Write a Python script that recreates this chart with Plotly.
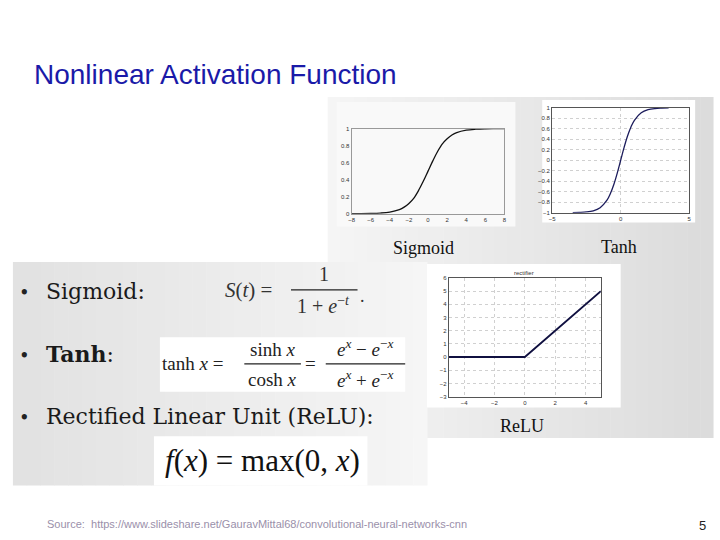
import plotly.graph_objects as go

W, H = 720, 540

# ---------------- data ----------------
sig_x = [-8, -7, -6, -5, -4, -3, -2.5, -2, -1.5, -1, -0.5, 0, 0.5, 1, 1.5, 2, 2.5, 3, 4, 5, 6, 7, 8]
sig_y = [0.0003, 0.0009, 0.0025, 0.0067, 0.018, 0.047, 0.076, 0.12, 0.18, 0.27, 0.38, 0.5,
         0.62, 0.73, 0.82, 0.88, 0.924, 0.953, 0.982, 0.993, 0.9975, 0.9991, 0.9997]

tanh_x = [-3.5, -3, -2.5, -2, -1.5, -1, -0.75, -0.5, -0.25, 0, 0.25, 0.5, 0.75, 1, 1.5, 2, 2.5, 3, 3.5]
tanh_y = [-0.998, -0.995, -0.987, -0.964, -0.905, -0.762, -0.635, -0.462, -0.245, 0,
          0.245, 0.462, 0.635, 0.762, 0.905, 0.964, 0.987, 0.995, 0.998]

relu_x = [-5, 0, 5]
relu_y = [0, 0, 5]

sig_xticks = [-8, -6, -4, -2, 0, 2, 4, 6, 8]
sig_yticks = [0, 0.2, 0.4, 0.6, 0.8, 1]
tanh_xticks = [-5, 0, 5]
tanh_yticks = [-1, -0.8, -0.6, -0.4, -0.2, 0, 0.2, 0.4, 0.6, 0.8, 1]
relu_xticks = [-4, -2, 0, 2, 4]
relu_yticks = [-3, -2, -1, 0, 1, 2, 3, 4, 5, 6]

title_text = "Nonlinear Activation Function"
source_text = "Source:&nbsp;&nbsp;https://www.slideshare.net/GauravMittal68/convolutional-neural-networks-cnn"
page_no = "5"


def px(x):
    return x / W


def py(y):
    return 1 - y / H


fig = go.Figure()

fig.add_trace(go.Scatter(x=sig_x, y=sig_y, mode="lines", line=dict(color="#111111", width=1.3, shape="spline"),
                         xaxis="x", yaxis="y", showlegend=False, hoverinfo="skip"))
fig.add_trace(go.Scatter(x=tanh_x, y=tanh_y, mode="lines", line=dict(color="#1c1c5c", width=1.3, shape="spline"),
                         xaxis="x2", yaxis="y2", showlegend=False, hoverinfo="skip"))
fig.add_trace(go.Scatter(x=relu_x, y=relu_y, mode="lines", line=dict(color="#101040", width=1.8),
                         xaxis="x3", yaxis="y3", showlegend=False, hoverinfo="skip"))

tickfont = dict(family="Liberation Sans", size=6, color="#333333")


def ax(dom, rng, ticks, grid, anchor, axcol="#999999"):
    return dict(domain=dom, range=rng, tickvals=ticks, tickfont=tickfont, showline=True, mirror=True,
                linecolor=axcol, linewidth=1, showgrid=grid, gridcolor="#d0d0d0", griddash="dot",
                gridwidth=0.7, zeroline=False, ticks="", ticklen=0, anchor=anchor, fixedrange=True)


shapes = []

# right grey panel (gradient approximated with strips)
x0, x1, y0, y1 = 327, 715, 95, 440
n = 30
for i in range(n):
    t = i / (n - 1)
    c = int(245 - t * 25)
    shapes.append(dict(type="rect", xref="paper", yref="paper", x0=px(x0 + (x1 - x0) * i / n),
                       x1=px(x0 + (x1 - x0) * (i + 1) / n + 0.5), y0=py(y1), y1=py(y0),
                       fillcolor=f"rgb({c},{c},{c})", line=dict(width=0), layer="below"))
# left grey panel
x0, x1, y0, y1 = 10, 427, 262, 488
for i in range(n):
    t = i / (n - 1)
    c = int(226 + t * 20)
    shapes.append(dict(type="rect", xref="paper", yref="paper", x0=px(x0 + (x1 - x0) * i / n),
                       x1=px(x0 + (x1 - x0) * (i + 1) / n + 0.5), y0=py(y1), y1=py(y0),
                       fillcolor=f"rgb({c},{c},{c})", line=dict(width=0), layer="below"))


def box(a, b, c, d, col="white"):
    shapes.append(dict(type="rect", xref="paper", yref="paper", x0=px(a), x1=px(b), y0=py(d), y1=py(c),
                       fillcolor=col, line=dict(width=0), layer="below"))


box(336, 516, 100, 226, "#f9f9f9")   # sigmoid image
box(543, 697, 98, 222)               # tanh image
box(427, 622, 264, 409)              # relu image
box(158, 405, 338, 393)              # tanh formula
box(152, 367, 438, 488)              # relu formula


def hline(a, b, y, w=1.2):
    shapes.append(dict(type="line", xref="paper", yref="paper", x0=px(a), x1=px(b), y0=py(y), y1=py(y),
                       line=dict(color="#222222", width=w)))


hline(290, 357, 290)
hline(243, 300, 365)
hline(325, 405, 365)

ann = []


def text(x, y, s, size, family="Liberation Serif", color="#222222", xanchor="left", **kw):
    ann.append(dict(x=px(x), y=py(y), xref="paper", yref="paper", text=s, showarrow=False,
                    xanchor=xanchor, yanchor="middle", borderpad=0,
                    font=dict(family=family, size=size, color=color), **kw))


text(30, 72, title_text, 28, family="Liberation Sans", color="#1a1aa8")
text(43, 527, source_text, 11, family="Liberation Sans", color="#9a90aa")
text(709, 528, page_no, 13, family="Liberation Sans", color="#222222", xanchor="right")

# image captions
text(423, 248, "Sigmoid", 18, xanchor="center", color="#111111")
text(620, 247, "Tanh", 18, xanchor="center", color="#111111")
text(523, 428, "ReLU", 18, xanchor="center", color="#111111")
text(525, 273, "rectifier", 6, family="Liberation Sans", xanchor="center", color="#333333")

# bullets
bul = "DejaVu Serif"
text(15, 293, "•", 18, family=bul, color="#222222")
text(42, 292, "Sigmoid:", 22, family=bul, color="#1a1a1a")
text(15, 356, "•", 18, family=bul, color="#222222")
text(42, 355, "<b>Tanh</b>:", 22, family=bul, color="#1a1a1a")
text(15, 419, "•", 18, family=bul, color="#222222")
text(42, 418, "Rectified Linear Unit (ReLU):", 22, family=bul, color="#1a1a1a")

# formulas
ff = "Liberation Serif"
text(223, 290, "<i>S</i>(<i>t</i>) =", 21, family=ff, color="#333333")
text(323, 274, "1", 20, family=ff, xanchor="center", color="#333333")
text(323, 305, "1 + <i>e</i><sup>−<i>t</i></sup>", 20, family=ff, xanchor="center", color="#333333")
text(358, 296, ".", 18, family=ff, color="#333333")

text(159, 365, "tanh <i>x</i> =", 19, family=ff, color="#222222")
text(271, 350, "sinh <i>x</i>", 19, family=ff, xanchor="center", color="#222222")
text(271, 381, "cosh <i>x</i>", 19, family=ff, xanchor="center", color="#222222")
text(303, 365, "=", 19, family=ff, color="#222222")
text(365, 349, "<i>e</i><sup><i>x</i></sup> − <i>e</i><sup>−<i>x</i></sup>", 19, family=ff, xanchor="center", color="#222222")
text(365, 380, "<i>e</i><sup><i>x</i></sup> + <i>e</i><sup>−<i>x</i></sup>", 19, family=ff, xanchor="center", color="#222222")

text(162, 463, "<i>f</i>(<i>x</i>) = max(0, <i>x</i>)", 31, family=ff, color="#111111")

fig.update_layout(
    width=W, height=H, margin=dict(l=0, r=0, t=0, b=0),
    paper_bgcolor="white", plot_bgcolor="rgba(0,0,0,0)",
    xaxis=ax([px(351), px(505)], [-8, 8], sig_xticks, False, "y"),
    yaxis=ax([py(213), py(127)], [0, 1], sig_yticks, False, "x"),
    xaxis2=ax([px(553), px(691)], [-5, 5], tanh_xticks, True, "y2", "#555555"),
    yaxis2=ax([py(212), py(106)], [-1, 1], tanh_yticks, True, "x2", "#555555"),
    xaxis3=ax([px(449), px(602)], [-5, 5], relu_xticks, True, "y3", "#555555"),
    yaxis3=ax([py(398), py(278)], [-3, 6], relu_yticks, True, "x3", "#555555"),
    shapes=shapes, annotations=ann, showlegend=False,
)

fig.write_html("out.html", config={"displayModeBar": False},
               post_script="document.body.style.margin='0';")
